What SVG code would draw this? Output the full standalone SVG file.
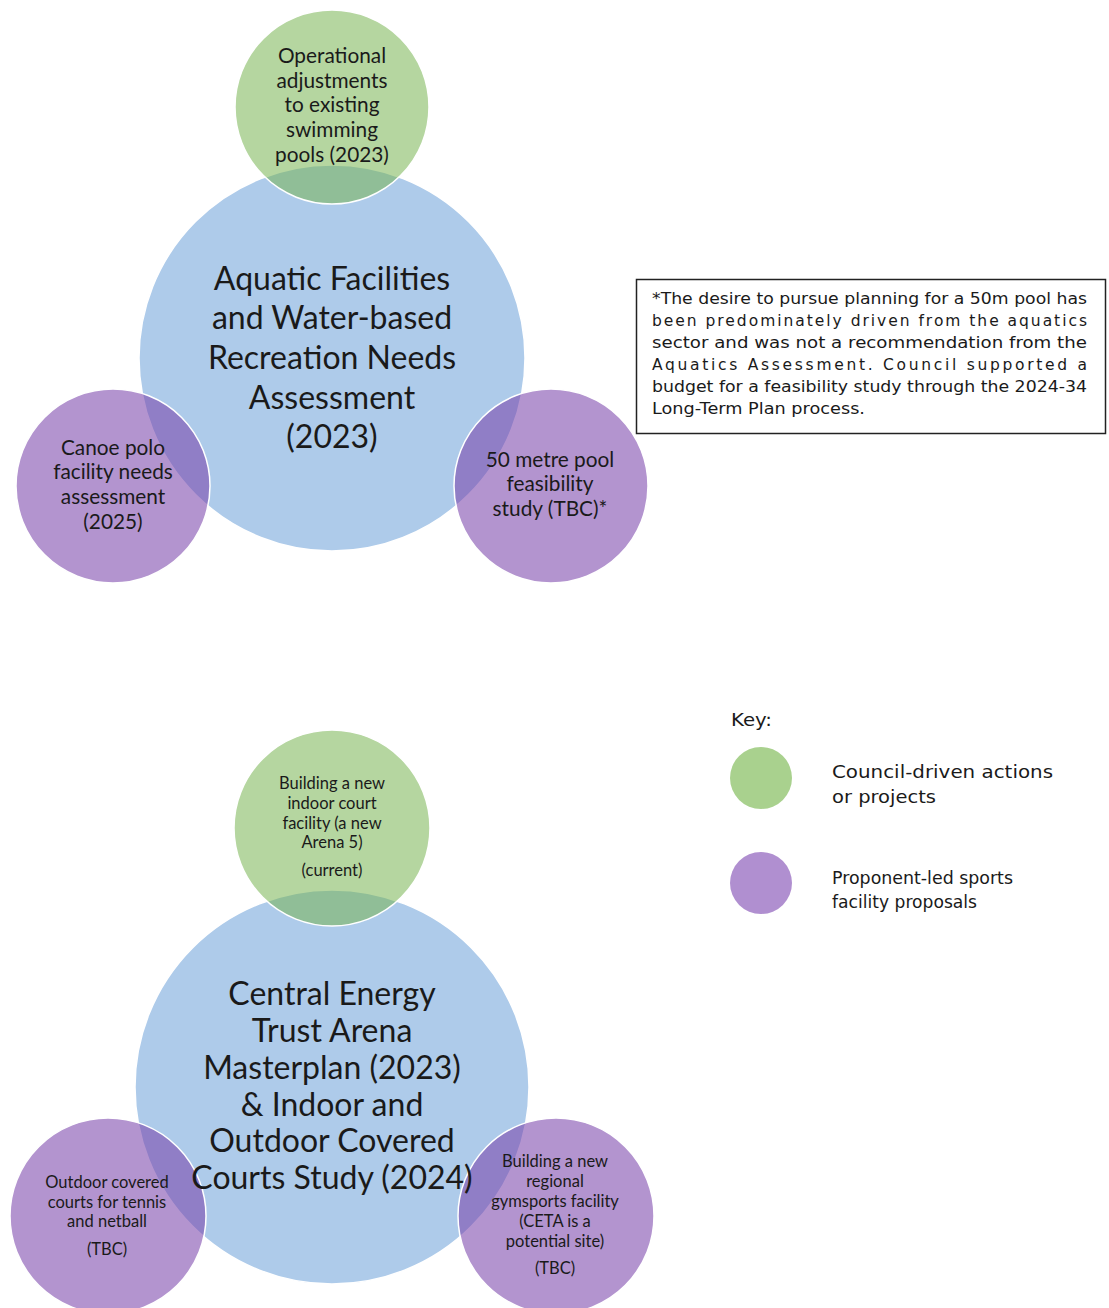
<svg xmlns="http://www.w3.org/2000/svg" width="1109" height="1308" viewBox="0 0 1109 1308">
<style>
.blue{fill:#aecbea;stroke:#ffffff;stroke-width:1.5}
.green{fill:#78b452;fill-opacity:0.55;stroke:#ffffff;stroke-width:1.5}
.purple{fill:#7a42ab;fill-opacity:0.57;stroke:#ffffff;stroke-width:1.5}
.kgreen{fill:#a9d18e}
.kpurple{fill:#b08fd0}
.big{font-family:Lato,"Liberation Sans",sans-serif;font-size:32px;fill:#1a1a1a;text-anchor:middle}
.sm{font-family:Lato,"Liberation Sans",sans-serif;font-size:20.8px;fill:#1a1a1a;text-anchor:middle}
.xs{font-family:Lato,"Liberation Sans",sans-serif;font-size:16.5px;fill:#1a1a1a;text-anchor:middle}
.note{font-family:"DejaVu Sans",sans-serif;font-size:15.5px;fill:#1a1a1a}
.key{font-family:"DejaVu Sans",sans-serif;font-size:17.5px;fill:#1a1a1a}
</style>
<rect width="1109" height="1308" fill="#ffffff"/>
<g id="connectors"></g>

<g id="aquatic-assessment">
<circle class="blue" cx="332" cy="358" r="193"/>
</g>
<g id="operational-adjustments">
<circle class="green" cx="332" cy="107" r="97"/>
<text class="sm"><tspan x="332" y="63">Operational</tspan><tspan x="332" y="88">adjustments</tspan><tspan x="332" y="112">to existing</tspan><tspan x="332" y="137">swimming</tspan><tspan x="332" y="162">pools (2023)</tspan></text>
</g>
<g id="canoe-polo">
<circle class="purple" cx="113" cy="486" r="97"/>
<text class="sm"><tspan x="113" y="455">Canoe polo</tspan><tspan x="113" y="479">facility needs</tspan><tspan x="113" y="504">assessment</tspan><tspan x="113" y="529">(2025)</tspan></text>
</g>
<g id="pool-50m">
<circle class="purple" cx="551" cy="486" r="97"/>
<text class="sm"><tspan x="550" y="467">50 metre pool</tspan><tspan x="550" y="491">feasibility</tspan><tspan x="550" y="516">study (TBC)*</tspan></text>
</g>
<g id="aquatic-assessment-label">
<text class="big"><tspan x="332" y="290">Aquatic Facilities</tspan><tspan x="332" y="329">and Water-based</tspan><tspan x="332" y="369">Recreation Needs</tspan><tspan x="332" y="409">Assessment</tspan><tspan x="332" y="448">(2023)</tspan></text>
</g>

<g id="note">
<rect x="636.5" y="279.5" width="469" height="154" fill="#ffffff" stroke="#222222" stroke-width="1.5"/>
<text class="note">
<tspan x="652" y="304" textLength="435" lengthAdjust="spacingAndGlyphs">*The desire to pursue planning for a 50m pool has</tspan>
<tspan x="652" y="326" textLength="435" lengthAdjust="spacing">been predominately driven from the aquatics</tspan>
<tspan x="652" y="348" textLength="435" lengthAdjust="spacingAndGlyphs">sector and was not a recommendation from the</tspan>
<tspan x="652" y="370" textLength="435" lengthAdjust="spacing">Aquatics Assessment. Council supported a</tspan>
<tspan x="652" y="392" textLength="435" lengthAdjust="spacingAndGlyphs">budget for a feasibility study through the 2024-34</tspan>
<tspan x="652" y="414" textLength="213" lengthAdjust="spacingAndGlyphs">Long-Term Plan process.</tspan>
</text>
</g>

<g id="key">
<text class="key" x="731" y="726" textLength="41" lengthAdjust="spacingAndGlyphs">Key:</text>
<circle class="kgreen" cx="761" cy="778" r="31"/>
<text class="key"><tspan x="832" y="778" textLength="221" lengthAdjust="spacingAndGlyphs">Council-driven actions</tspan><tspan x="832" y="803" textLength="104" lengthAdjust="spacingAndGlyphs">or projects</tspan></text>
<circle class="kpurple" cx="761" cy="883" r="31"/>
<text class="key"><tspan x="832" y="884" textLength="181" lengthAdjust="spacingAndGlyphs">Proponent-led sports</tspan><tspan x="832" y="908" textLength="145" lengthAdjust="spacingAndGlyphs">facility proposals</tspan></text>
</g>

<g id="ceta-masterplan">
<circle class="blue" cx="332" cy="1087" r="197"/>
</g>
<g id="indoor-court">
<circle class="green" cx="332" cy="828" r="98"/>
<text class="xs"><tspan x="332" y="789">Building a new</tspan><tspan x="332" y="809">indoor court</tspan><tspan x="332" y="829">facility (a new</tspan><tspan x="332" y="848">Arena 5)</tspan><tspan x="332" y="876">(current)</tspan></text>
</g>
<g id="outdoor-courts">
<circle class="purple" cx="108" cy="1216" r="98"/>
<text class="xs"><tspan x="107" y="1188">Outdoor covered</tspan><tspan x="107" y="1208">courts for tennis</tspan><tspan x="107" y="1227">and netball</tspan><tspan x="107" y="1255">(TBC)</tspan></text>
</g>
<g id="gymsports">
<circle class="purple" cx="556" cy="1216" r="98"/>
<text class="xs"><tspan x="555" y="1167">Building a new</tspan><tspan x="555" y="1187">regional</tspan><tspan x="555" y="1207">gymsports facility</tspan><tspan x="555" y="1227">(CETA is a</tspan><tspan x="555" y="1247">potential site)</tspan><tspan x="555" y="1274">(TBC)</tspan></text>
</g>
<g id="ceta-masterplan-label">
<text class="big"><tspan x="332" y="1005">Central Energy</tspan><tspan x="332" y="1042">Trust Arena</tspan><tspan x="332" y="1079">Masterplan (2023)</tspan><tspan x="332" y="1116">&amp; Indoor and</tspan><tspan x="332" y="1152">Outdoor Covered</tspan><tspan x="332" y="1189">Courts Study (2024)</tspan></text>
</g>
</svg>
